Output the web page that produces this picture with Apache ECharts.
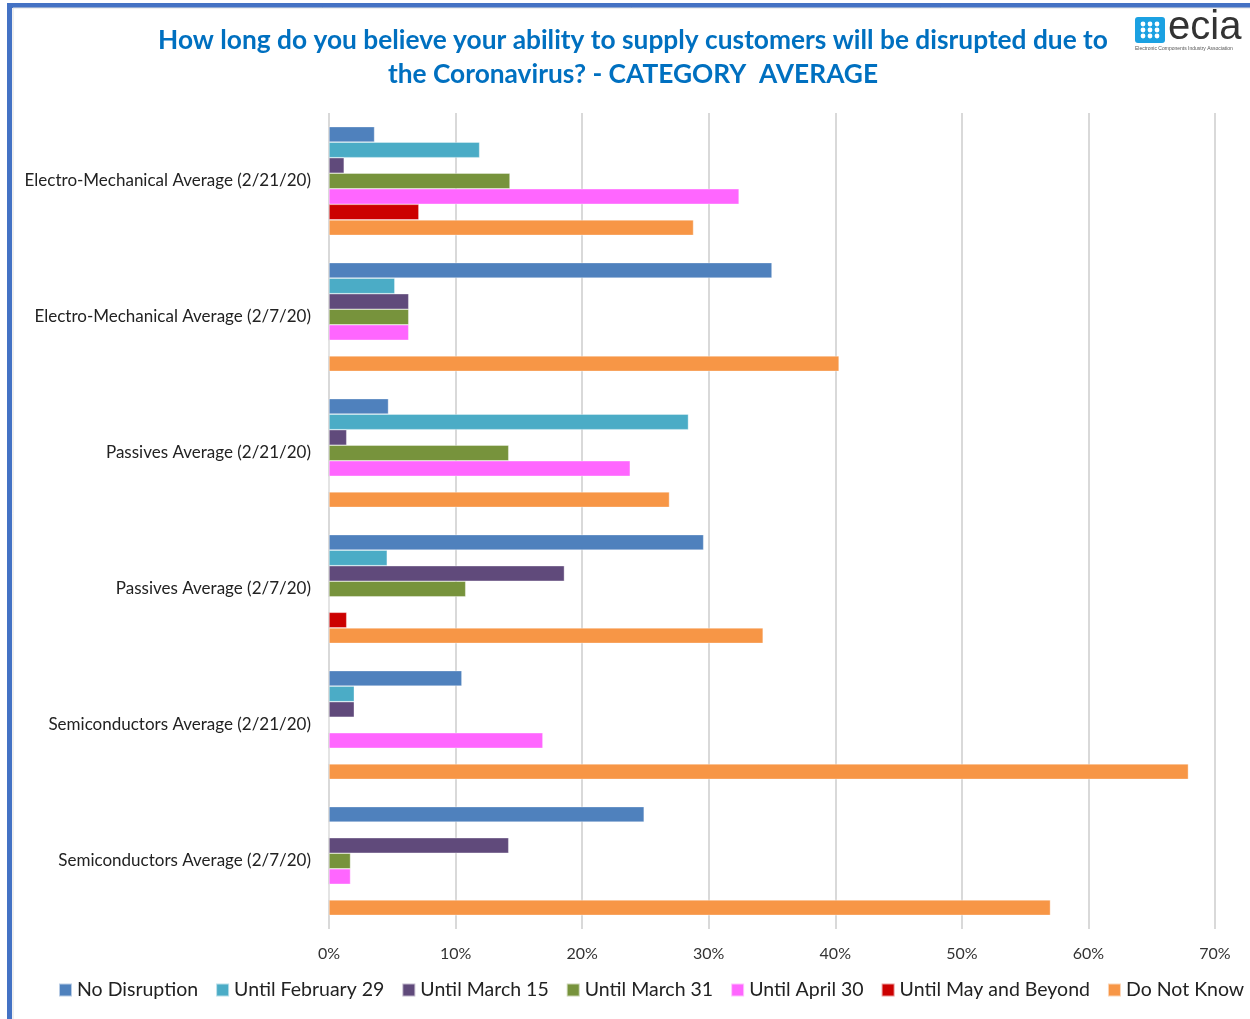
<!DOCTYPE html>
<html>
<head>
<meta charset="utf-8">
<script src="https://cdn.jsdelivr.net/npm/echarts@6/dist/echarts.min.js"></script>
<style>
html,body{margin:0;padding:0;background:#fff;}
#chart{width:1250px;height:1019px;}
</style>
</head>
<body>
<div id="chart"></div>
<script>
const categories = [
  'Electro-Mechanical Average (2/21/20)',
  'Electro-Mechanical Average (2/7/20)',
  'Passives Average (2/21/20)',
  'Passives Average (2/7/20)',
  'Semiconductors Average (2/21/20)',
  'Semiconductors Average (2/7/20)'
];
const seriesNames = ['No Disruption','Until February 29','Until March 15','Until March 31','Until April 30','Until May and Beyond','Do Not Know'];
const noDisruption = [3.6, 35.0, 4.7, 29.6, 10.5, 24.9];
const untilFeb29   = [11.9, 5.2, 28.4, 4.6, 2.0, 0];
const untilMar15   = [1.2, 6.3, 1.4, 18.6, 2.0, 14.2];
const untilMar31   = [14.3, 6.3, 14.2, 10.8, 0, 1.7];
const untilApr30   = [32.4, 6.3, 23.8, 0, 16.9, 1.7];
const untilMay     = [7.1, 0, 0, 1.4, 0, 0];
const doNotKnow    = [28.8, 40.3, 26.9, 34.3, 67.9, 57.0];
const xTicks = [0, 10, 20, 30, 40, 50, 60, 70];
const colors = ['#4F81BD','#4BACC6','#604A7B','#77933C','#FF66FF','#CC0000','#F79646'];

const values = [noDisruption, untilFeb29, untilMar15, untilMar31, untilApr30, untilMay, doNotKnow];
const font = 'Lato, "Open Sans", sans-serif';

const chart = echarts.init(document.getElementById('chart'));
chart.setOption({
  animation: false,
  backgroundColor: '#ffffff',
  color: colors,
  title: {
    text: 'How long do you believe your ability to supply customers will be disrupted due to\nthe Coronavirus? - CATEGORY  AVERAGE',
    left: 628,
    textAlign: 'center',
    top: 19,
    textStyle: { color: '#0070C0', fontSize: 26.3, fontWeight: 'bold', fontFamily: font, lineHeight: 34 }
  },
  legend: {
    bottom: 14,
    left: 53,
    itemWidth: 13,
    itemHeight: 13,
    itemGap: 17,
    icon: 'rect',
    textStyle: { fontSize: 19.5, color: '#222', fontFamily: font },
    data: seriesNames
  },
  grid: { left: 329, right: 35, top: 113, bottom: 90, containLabel: false },
  xAxis: {
    type: 'value',
    min: xTicks[0],
    max: xTicks[xTicks.length - 1],
    interval: 10,
    axisLabel: { formatter: '{value}%', fontSize: 16, color: '#333', fontFamily: font, margin: 17 },
    axisLine: { show: false },
    axisTick: { show: false },
    splitLine: { show: true, lineStyle: { color: '#D9D9D9', width: 2 } }
  },
  yAxis: {
    type: 'category',
    inverse: true,
    data: categories,
    axisLine: { show: false },
    axisTick: { show: false },
    axisLabel: { fontSize: 17, color: '#222', fontFamily: font, margin: 18 }
  },
  series: seriesNames.map((name, i) => ({
    name: name,
    type: 'bar',
    data: values[i],
    barGap: '0%',
    barCategoryGap: '20%',
    itemStyle: { color: colors[i], borderColor: 'rgba(255,255,255,0.6)', borderWidth: 0.6 }
  })),
  graphic: [
    { type: 'polyline', shape: { points: [[9.5, 1019], [9.5, 5.5], [1250, 5.5]] }, style: { stroke: '#4472C4', lineWidth: 5, fill: null } },
    { type: 'polyline', shape: { points: [[13, 1019], [13, 8], [1250, 8]] }, style: { stroke: '#E0E0E0', lineWidth: 1, fill: null } },
    { type: 'rect', shape: { x: 1135, y: 17, width: 30, height: 26, r: 3 }, style: { fill: '#1BA1E2' } },
    { type: 'group', children: [
      { type: 'circle', shape: { cx: 1143, cy: 24, r: 2.4 }, style: { fill: '#fff' } },
      { type: 'circle', shape: { cx: 1150, cy: 24, r: 2.4 }, style: { fill: '#fff' } },
      { type: 'circle', shape: { cx: 1157, cy: 24, r: 2.4 }, style: { fill: '#fff' } },
      { type: 'circle', shape: { cx: 1143, cy: 30, r: 2.4 }, style: { fill: '#fff' } },
      { type: 'circle', shape: { cx: 1150, cy: 30, r: 2.4 }, style: { fill: '#fff' } },
      { type: 'circle', shape: { cx: 1157, cy: 30, r: 2.4 }, style: { fill: '#fff' } },
      { type: 'circle', shape: { cx: 1143, cy: 36, r: 2.4 }, style: { fill: '#fff' } },
      { type: 'circle', shape: { cx: 1150, cy: 36, r: 2.4 }, style: { fill: '#fff' } },
      { type: 'circle', shape: { cx: 1157, cy: 36, r: 2.4 }, style: { fill: '#fff' } }
    ]},
    { type: 'text', left: 1168, top: 8, style: { text: 'ecia', fill: '#333', font: '40px "Liberation Sans", Arial, sans-serif' } },
    { type: 'text', left: 1135, top: 46, style: { text: 'Electronic Components Industry Association', fill: '#555', font: '5px "Liberation Sans", Arial, sans-serif' } }
  ]
});
</script>
</body>
</html>
